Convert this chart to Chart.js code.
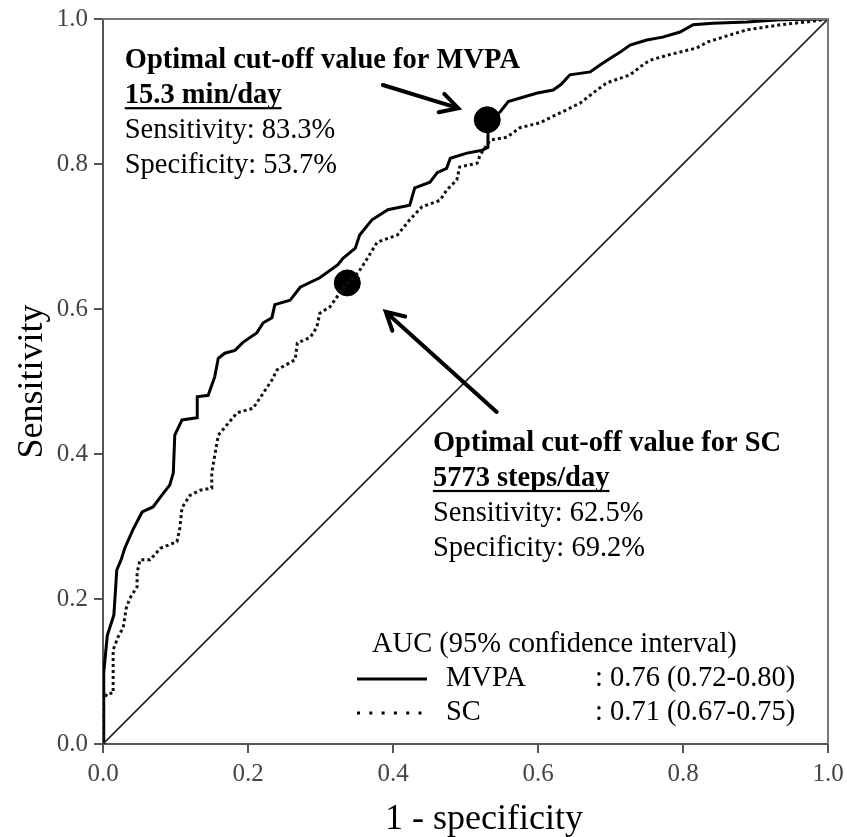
<!DOCTYPE html>
<html>
<head>
<meta charset="utf-8">
<script src="https://cdn.jsdelivr.net/npm/chart.js@4.4.1/dist/chart.umd.min.js"></script>
<style>
  html, body { margin: 0; padding: 0; background: #fff; }
  #wrap { width: 847px; height: 837px; }
</style>
</head>
<body>
<div id="wrap"><canvas id="rocChart" width="847" height="837"></canvas></div>
<script>
// Curva ROC de MVPA (1 - especificidad, sensibilidad)
const mvpaFpr = [0, 0.001, 0.004, 0.006, 0.015, 0.019, 0.025, 0.030, 0.041, 0.054, 0.069, 0.081, 0.092, 0.097, 0.099, 0.109, 0.130, 0.130, 0.145, 0.154, 0.159, 0.168, 0.182, 0.193, 0.212, 0.221, 0.233, 0.237, 0.258, 0.272, 0.299, 0.324, 0.331, 0.348, 0.354, 0.371, 0.393, 0.423, 0.430, 0.451, 0.461, 0.474, 0.479, 0.502, 0.523, 0.531, 0.531, 0.531, 0.548, 0.559, 0.579, 0.599, 0.621, 0.632, 0.644, 0.672, 0.686, 0.703, 0.713, 0.727, 0.750, 0.772, 0.796, 0.814, 0.841, 0.888, 0.934, 1];
const mvpaTpr = [0, 0.098, 0.130, 0.150, 0.178, 0.240, 0.254, 0.270, 0.295, 0.320, 0.327, 0.343, 0.357, 0.374, 0.426, 0.447, 0.450, 0.479, 0.481, 0.506, 0.532, 0.539, 0.543, 0.554, 0.567, 0.581, 0.588, 0.606, 0.612, 0.630, 0.643, 0.661, 0.670, 0.684, 0.702, 0.723, 0.737, 0.743, 0.767, 0.775, 0.788, 0.794, 0.808, 0.815, 0.819, 0.823, 0.843, 0.858, 0.872, 0.886, 0.892, 0.898, 0.902, 0.910, 0.923, 0.927, 0.937, 0.948, 0.954, 0.964, 0.971, 0.975, 0.982, 0.992, 0.994, 0.996, 0.999, 1];

// Curva ROC de SC
const scFpr = [0, 0.000, 0.006, 0.014, 0.014, 0.021, 0.028, 0.032, 0.037, 0.047, 0.047, 0.051, 0.065, 0.079, 0.102, 0.106, 0.109, 0.120, 0.134, 0.150, 0.150, 0.159, 0.185, 0.207, 0.233, 0.240, 0.265, 0.268, 0.286, 0.295, 0.299, 0.313, 0.323, 0.337, 0.352, 0.366, 0.378, 0.406, 0.423, 0.440, 0.465, 0.474, 0.488, 0.492, 0.516, 0.520, 0.534, 0.557, 0.575, 0.603, 0.621, 0.640, 0.658, 0.676, 0.695, 0.727, 0.745, 0.754, 0.782, 0.819, 0.833, 0.865, 0.888, 0.934, 0.971, 1];
const scTpr = [0, 0.060, 0.070, 0.070, 0.130, 0.148, 0.161, 0.187, 0.201, 0.217, 0.236, 0.254, 0.254, 0.270, 0.279, 0.298, 0.326, 0.343, 0.350, 0.353, 0.374, 0.426, 0.457, 0.463, 0.502, 0.516, 0.530, 0.553, 0.561, 0.575, 0.594, 0.603, 0.617, 0.636, 0.650, 0.672, 0.692, 0.702, 0.723, 0.741, 0.750, 0.764, 0.778, 0.796, 0.801, 0.812, 0.833, 0.837, 0.850, 0.857, 0.866, 0.875, 0.884, 0.898, 0.912, 0.923, 0.937, 0.943, 0.951, 0.960, 0.968, 0.978, 0.985, 0.992, 0.996, 1];

// Puntos de corte óptimos (MVPA, SC)
const cutoffFpr = [0.530, 0.337];
const cutoffTpr = [0.861, 0.636];

const refLine = [0, 1];
const axisTicks = [0, 0.2, 0.4, 0.6, 0.8, 1.0];

const mvpaNotes = ["Optimal cut-off value for MVPA", "15.3 min/day", "Sensitivity: 83.3%", "Specificity: 53.7%"];
const scNotes = ["Optimal cut-off value for SC", "5773 steps/day", "Sensitivity: 62.5%", "Specificity: 69.2%"];
const aucTitle = "AUC (95% confidence interval)";
const aucNames = ["MVPA", "SC"];
const aucValues = [": 0.76 (0.72-0.80)", ": 0.71 (0.67-0.75)"];
const xTitle = "1 - specificity";
const yTitle = "Sensitivity";

const SERIF = '"Liberation Serif", "Times New Roman", serif';

const toPoints = (xs, ys) => xs.map((v, i) => ({ x: v, y: ys[i] }));

// Posiciones de las anotaciones (en unidades de datos)
const layoutNotes = {
    mvpaBlock: { x: 0.030, y: 0.932 },
    scBlock: { x: 0.455, y: 0.404 },
    mvpaArrow: { from: [0.386, 0.909], to: [0.490, 0.877] },
    scArrow: { from: [0.543, 0.458], to: [0.390, 0.596] }
};

const drawArrow = (ctx, x1, y1, x2, y2) => {
    const ang = Math.atan2(y2 - y1, x2 - x1);
    const head = 20;
    ctx.beginPath();
    ctx.moveTo(x1, y1);
    ctx.lineTo(x2, y2);
    ctx.moveTo(x2 - head * Math.cos(ang - 0.5), y2 - head * Math.sin(ang - 0.5));
    ctx.lineTo(x2, y2);
    ctx.lineTo(x2 - head * Math.cos(ang + 0.5), y2 - head * Math.sin(ang + 0.5));
    ctx.stroke();
};

const drawBlock = (ctx, lines, left, base) => {
    const step = 34.8;
    lines.forEach((txt, i) => {
        ctx.font = (i < 2 ? "bold " : "") + "28.5px " + SERIF;
        const yy = base + i * step;
        ctx.fillText(txt, left, yy);
        if (i === 1) {
            const w = ctx.measureText(txt).width;
            ctx.fillRect(left, yy + 4, w, 2.2);
        }
    });
};

const notesPlugin = {
    id: "notes",
    afterDatasetsDraw(chart) {
        const { ctx, chartArea, scales: { x, y } } = chart;
        ctx.save();

        // marco superior y derecho
        ctx.strokeStyle = "#777";
        ctx.lineWidth = 2;
        ctx.beginPath();
        ctx.moveTo(chartArea.left, chartArea.top);
        ctx.lineTo(chartArea.right, chartArea.top);
        ctx.lineTo(chartArea.right, chartArea.bottom);
        ctx.stroke();

        ctx.fillStyle = "#000";
        ctx.strokeStyle = "#000";
        ctx.textBaseline = "alphabetic";
        ctx.textAlign = "left";

        const b1 = layoutNotes.mvpaBlock, b2 = layoutNotes.scBlock;
        drawBlock(ctx, mvpaNotes, x.getPixelForValue(b1.x), y.getPixelForValue(b1.y));
        drawBlock(ctx, scNotes, x.getPixelForValue(b2.x), y.getPixelForValue(b2.y));

        ctx.lineWidth = 4;
        ctx.lineCap = "round";
        [layoutNotes.mvpaArrow, layoutNotes.scArrow].forEach(a => {
            drawArrow(ctx,
                x.getPixelForValue(a.from[0]), y.getPixelForValue(a.from[1]),
                x.getPixelForValue(a.to[0]), y.getPixelForValue(a.to[1]));
        });

        // leyenda AUC
        ctx.textBaseline = "middle";
        ctx.font = "28.5px " + SERIF;
        ctx.fillText(aucTitle, 372, 645);
        const rows = [679, 713];
        rows.forEach((ry, i) => {
            ctx.fillText(aucNames[i], 446, ry);
            ctx.fillText(aucValues[i], 595, ry);
        });
        ctx.lineCap = "butt";
        ctx.lineWidth = 3;
        ctx.beginPath();
        ctx.moveTo(357, rows[0]);
        ctx.lineTo(427, rows[0]);
        ctx.stroke();
        for (let i = 0; i < 6; i++) {
            ctx.fillRect(357 + i * 12.3, rows[1] - 1.5, 3, 3);
        }

        // títulos de los ejes
        ctx.font = "36px " + SERIF;
        ctx.textAlign = "center";
        ctx.fillText(xTitle, 484, 820);
        ctx.translate(33, chartArea.top + (chartArea.bottom - chartArea.top) / 2);
        ctx.rotate(-Math.PI / 2);
        ctx.fillText(yTitle, 0, 0);

        ctx.restore();
    }
};

const axisCommon = {
    type: "linear",
    min: 0,
    max: 1,
    afterBuildTicks(scale) {
        scale.ticks = axisTicks.map(v => ({ value: v }));
    },
    ticks: {
        callback: v => v.toFixed(1),
        font: { family: SERIF, size: 25 },
        color: "#444",
        maxRotation: 0,
        autoSkip: false
    },
    grid: { drawOnChartArea: false, drawTicks: true, tickLength: 9, color: "#555", lineWidth: 2 },
    border: { display: true, color: "#555", width: 2 },
    title: { display: false }
};

new Chart(document.getElementById("rocChart"), {
    type: "scatter",
    data: {
        datasets: [
            {
                label: "Reference",
                data: toPoints(refLine, refLine),
                showLine: true,
                borderColor: "#222",
                borderWidth: 1.6,
                pointRadius: 0
            },
            {
                label: "SC",
                data: toPoints(scFpr, scTpr),
                showLine: true,
                borderColor: "#111",
                borderWidth: 3,
                borderDash: [3, 3],
                pointRadius: 0,
                tension: 0
            },
            {
                label: "MVPA",
                data: toPoints(mvpaFpr, mvpaTpr),
                showLine: true,
                borderColor: "#000",
                borderWidth: 3,
                pointRadius: 0,
                tension: 0
            },
            {
                label: "Cut-off",
                data: toPoints(cutoffFpr, cutoffTpr),
                showLine: false,
                backgroundColor: "#000",
                borderColor: "#000",
                pointRadius: 13
            }
        ]
    },
    options: {
        responsive: false,
        animation: false,
        events: [],
        layout: { padding: { top: 19, right: 19, left: 0, bottom: 0 } },
        plugins: {
            legend: { display: false },
            tooltip: { enabled: false }
        },
        scales: {
            x: {
                ...axisCommon,
                afterFit(scale) {
                    scale.height = 93;
                    scale.paddingLeft = 0;
                    scale.paddingRight = 0;
                },
                ticks: { ...axisCommon.ticks, padding: 6 }
            },
            y: {
                ...axisCommon,
                afterFit(scale) {
                    scale.width = 103;
                    scale.paddingTop = 0;
                    scale.paddingBottom = 0;
                },
                ticks: { ...axisCommon.ticks, padding: 6 }
            }
        }
    },
    plugins: [notesPlugin]
});
</script>
</body>
</html>
